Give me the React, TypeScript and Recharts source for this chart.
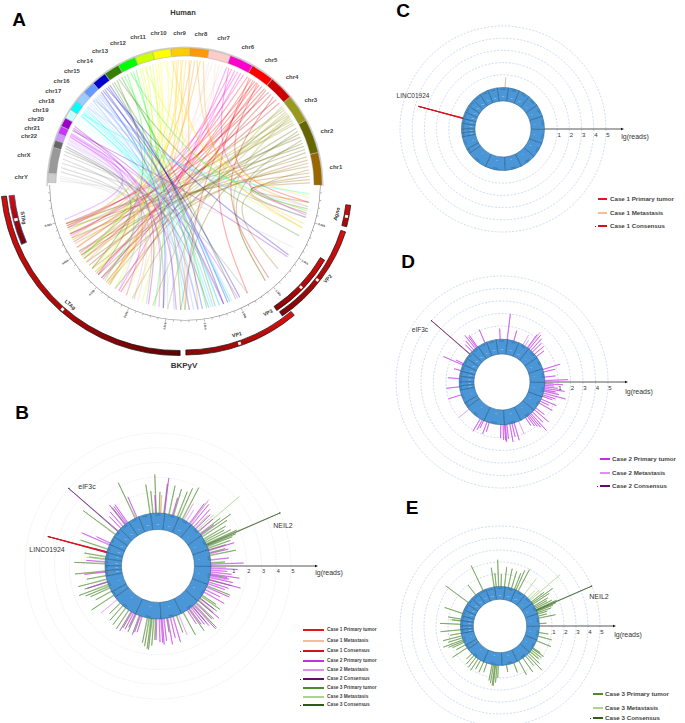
import React from 'react';
import { PieChart, Pie, Cell, RadarChart, Radar, PolarGrid, PolarAngleAxis, PolarRadiusAxis, LineChart, Line, XAxis, YAxis } from 'recharts';

const FONT = '"Liberation Sans", Arial, sans-serif';
const W = 685, H = 723;
const RAD = Math.PI / 180;

/* ---------- Panel A data ---------- */
const chrNames = ['chr1','chr2','chr3','chr4','chr5','chr6','chr7','chr8','chr9','chr10','chr11','chr12','chr13','chr14','chr15','chr16','chr17','chr18','chr19','chr20','chr21','chr22','chrX','chrY'];
const chrSpans = [14,14.5,11.9,10.6,10,10.2,9.3,8.1,8,7.7,7.7,7.7,6.6,6.3,5.4,4.8,4.2,4,3.8,3.2,3,3,11,4];
const chrColors = ['#996600','#666600','#99991e','#cc0000','#ff0000','#ff00cc','#ffcccc','#ff9900','#ffcc00','#ffff00','#ccff00','#00ff00','#358000','#0000cc','#6699ff','#99ccff','#00ffff','#ccffff','#9900cc','#cc33ff','#cc99ff','#666666','#999999','#cccccc'];

const links: number[][][] = [
  [[1,352],[2.5,349],[4,345],[5.5,200],[7,318],[8.5,205],[10,222],[11.5,228],[13,212]],
  [[15,347],[16.5,214],[18,198],[19.5,218],[21,310],[22.5,203],[24,226],[25.5,268],[27,236]],
  [[29,208],[30,216],[31,199],[32,224],[33,310],[34,206],[35,232],[36,245],[37,201],[38,212],[39,262],[33.5,255]],
  [[41,220],[43,203],[45,312],[46.5,228],[48,198],[49.5,239],[50.5,214]],
  [[52,207],[53.5,231],[55,216],[56,199],[57,270],[58,225],[59,300],[60,210],[54.5,352]],
  [[62,204],[63.5,226],[65,200],[66.5,229],[68,213],[69.5,346],[70.5,238]],
  [[72.5,208],[74,260],[76,354],[77.5,222],[79,240]],
  [[81.5,340],[83,218],[84.5,350],[85.5,233],[87,205],[88,276]],
  [[89.5,232],[91,210],[92,270],[93,222],[94,246],[95,200],[96,342]],
  [[98,232],[99.5,355],[101,214],[102.5,242],[103.5,225]],
  [[105,224],[106.5,250],[108,202],[109,340],[110,236],[111,216]],
  [[113,230],[114.5,256],[116,348],[117.5,215],[119,280]],
  [[120.5,294],[122,336],[123,222],[124.5,284],[125.5,268]],
  [[127,288],[128,290],[129,326],[130,278],[131,296],[132,260]],
  [[133,286],[134,291],[135,272],[136,283],[137,345],[137.5,265]],
  [[139,292],[140,280],[141,274],[141.5,350],[142,262]],
  [[143,291],[144,286],[144.7,276],[145.5,356],[146,270],[146.5,282]],
  [[148,278],[149,292],[150,284]],
  [[152,253],[153,288],[153.7,266],[154.3,325]],
  [[155.5,196],[156,258],[156.5,295],[157,242],[157.5,276]],
  [[158.5,200],[159,246],[160,272],[160.6,238]],
  [[162,260],[163,226],[164.3,281]],
  [[166,288],[168,252],[170,300],[172,233],[174,272]],
  [[176,274],[177,248],[178.2,330]],
];

/* Scale of the viral genome, every 100 bp */
const scaleBp = [0,100,200,300,400,500,600,700,800,900,1000,1100,1200,1300,1400,1500,1600,1700,1800,1900,2000,2100,2200,2300,2400,2500,2600,2700,2800,2900,3000,3100,3200,3300,3400,3500,3600,3700,3800,3900,4000,4100,4200,4300,4400,4500,4600,4700,4800,4900,5000,5100,5200,5300,5400];

const geneNames = ['LTAg','STAg','VP1','VP2','VP3','Agno'];
const geneFrom = [186,186,270.3,304,303.4,345.5];
const geneTo = [270.7,203,310,342,329.5,353];
const geneMark = [228.7,194.4,289,322,316,349];
const geneLabels = [
  { t:'LTAg', x:70, y:305, r:40 }, { t:'STAg', x:23, y:218, r:80 }, { t:'VP1', x:237, y:335, r:-15 },
  { t:'VP2', x:328, y:279, r:-48 }, { t:'VP3', x:268, y:313, r:-25 }, { t:'Agno', x:337, y:214, r:-75 },
];
const geneGeom = [
  { cx:178, cy:178, ri:172.5, ro:177.5, grad:'gLT', line:'#111' },
  { cx:178, cy:178, ri:164.5, ro:170, grad:'gST', line:'#2a4e9e' },
  { cx:185, cy:185, ri:165, ro:170, grad:'gV1', line:'#111' },
  { cx:192, cy:182, ri:156.5, ro:161.5, grad:'gV2', line:'#111' },
  { cx:192, cy:182, ri:149, ro:154, grad:'gV3', line:'#111' },
  { cx:185, cy:185, ri:162, ro:167, grad:'gAg', line:'#111' },
];

/* ---------- Junction spikes: [angle in degrees, lg(reads)] ---------- */
const case1Primary = [[164.7,3.7]];
const case1Metastasis = [[86.7,0.8]];
const case1Consensus = [[164.7,3.7]];
const case2Primary = [[1.4,1.8],[6,.83],[13,.9],[16.5,1.39],[36,.7],[40,.9],[44,.95],[47,1.2],[50,1.4],[53,1.25],[73.6,.8],[82.4,2.0],[91.8,.8],[113,1.1],[124.7,1.07],[126,1.0],[128,1.28],[131,.9],[134,.7],[154,.6],[156,1.63],[164,.5],[175,.87],[185.8,1],[197,1],[239,1.1],[242,.83],[244,.6],[249,.96],[252,.7],[268,1.0],[271,1.15],[273,1.2],[274,1.34],[276,1.1],[280,1.4],[283,1.0],[286,1.38],[303,.7],[306,.9],[308,1.05],[310,1.3],[312,1.76],[315,1.1],[319,1.44],[322,.8],[330,1.15],[333,.7],[336,1.26],[340,.8],[342,1.0],[344.5,1.78],[347,1.2],[349,.9],[351,1.58],[353,1.0],[355,.7],[357,1.4]];
const case2Metastasis = [[219,1],[292.5,1.06],[60,.85],[52,1.55],[348,.8],[358,.6],[57,.5]];
const case2Consensus = [[138.7,4.0]];
const case3Primary = [[3,.55],[10.8,1.39],[14,.7],[17,.8],[19,1.2],[21,1.4],[22,1.7],[24,1.85],[26,1.5],[28,1.1],[30,1.3],[33,1.6],[35,2.05],[37,1.3],[62,1.97],[65.5,1.75],[68,1.4],[72.4,1.44],[77.5,1.56],[83,1.6],[88,1.0],[91.4,2.2],[95,1.1],[98,1.58],[115,2.25],[127.5,1],[143,2.3],[161,1.53],[169.4,1.05],[172,.7],[177,1.67],[185,1.64],[190,.9],[194,1.58],[197,1.2],[200,1.7],[202,1.3],[204,1.0],[208,.8],[213,1.4],[224,.6],[228,.9],[232,1.0],[236,1.1],[240,.8],[245,.9],[250,.75],[258,1.3],[260,1.5],[262,1.65],[263,1.7],[265,1.4],[267,1.0],[279,.55],[290,.8],[297.8,1.3],[305,1.37],[310,1.0],[313,1.74],[316,1.2],[319,.9],[322,1.0],[324.4,1.1],[326,.7],[337.5,1.25],[344.5,1.14],[350,.75]];
const case3Metastasis = [[40,3.25],[52,1.66],[42,1.1],[45,.8],[320,.9],[325,.8],[172.5,.9]];
const case3Consensus = [[23.2,5.0]];

/* ---------- Ring of the genome used in panels B to E ---------- */
const ringNames = ['1','2','3','4','5','6','7','8','9','10','11','12','13','14','15','16','17','18','19','20','21','22','X','Y'];
const ringSizes = [249,242,198,190,181,171,159,145,138,134,135,133,114,107,102,90,83,80,59,64,47,51,156,57];
const lgTicks = [1,2,3,4,5];

const seriesStyle: Record<string,{color:string;w:number}> = {
  p1:{color:'#e8141c',w:.8}, m1:{color:'#f6bd96',w:.8}, c1:{color:'#d4111b',w:.8},
  p2:{color:'#c030e8',w:.5}, m2:{color:'#dc90f0',w:.5}, c2:{color:'#5e1068',w:.6},
  p3:{color:'#4f8a2c',w:.5}, m3:{color:'#aed48a',w:.5}, c3:{color:'#2f5a1c',w:.6},
};
const seriesSource: Record<string,number[][]> = {
  p1:case1Primary, m1:case1Metastasis, c1:case1Consensus,
  p2:case2Primary, m2:case2Metastasis, c2:case2Consensus,
  p3:case3Primary, m3:case3Metastasis, c3:case3Consensus,
};
const BASE = -0.6;
const STEPS = 720;
const spikeTable = Array.from({ length: STEPS }, (_, i) => {
  const row: Record<string,number> = { a:i };
  Object.keys(seriesSource).forEach(k => { row[k] = BASE; });
  return row;
});
Object.keys(seriesSource).forEach(k => {
  seriesSource[k].forEach(([a, v]) => { const i = Math.round(a * 2) % STEPS; spikeTable[i][k] = Math.max(spikeTable[i][k], v); });
});

const panels = [
  { id:'B', cx:158, cy:566, v0:56.75, step:15.25, ro:53, ri:36.5, arrow:159, lx:171, ly:6, keys:['p1','m1','p3','m3','p2','m2','c1','c2','c3'], fs:5.5, grid:'#d6def2', dash:'1 1.5' },
  { id:'C', cx:503, cy:129, v0:42, step:12.2, ro:41.5, ri:28, arrow:120, lx:132, ly:7, keys:['m1','p1','c1'], fs:6, grid:'#b9cbe9', dash:'2 1.5' },
  { id:'D', cx:502, cy:382, v0:43.5, step:12.5, ro:42.8, ri:28, arrow:125, lx:137, ly:9, keys:['m2','p2','c2'], fs:6, grid:'#b9cbe9', dash:'2 1.5' },
  { id:'E', cx:500, cy:626, v0:40, step:12, ro:39.5, ri:26.7, arrow:115, lx:128, ly:8, keys:['m3','p3','c3'], fs:6, grid:'#b9cbe9', dash:'2 1.5' },
];

const legendB = [
  { t:'Case 1 Primary tumor', c:'#e8141c', y:630 }, { t:'Case 1 Metastasis', c:'#f6bd96', y:640.5 }, { t:'Case 1 Consensus', c:'#d4111b', y:651, dot:true },
  { t:'Case 2 Primary tumor', c:'#c030e8', y:661 }, { t:'Case 2 Metastasis', c:'#dc90f0', y:670 }, { t:'Case 2 Consensus', c:'#5e1068', y:679, dot:true },
  { t:'Case 3 Primary tumor', c:'#4f8a2c', y:688 }, { t:'Case 3 Metastasis', c:'#aed48a', y:697 }, { t:'Case 3 Consensus', c:'#2f5a1c', y:705, dot:true },
];
const legendC = [
  { t:'Case 1 Primary tumor', c:'#e8141c', y:199 }, { t:'Case 1 Metastasis', c:'#f6bd96', y:213 }, { t:'Case 1 Consensus', c:'#d4111b', y:226, dot:true },
];
const legendD = [
  { t:'Case 2 Primary tumor', c:'#c030e8', y:459 }, { t:'Case 2 Metastasis', c:'#dc90f0', y:473 }, { t:'Case 2 Consensus', c:'#5e1068', y:486, dot:true },
];
const legendE = [
  { t:'Case 3 Primary tumor', c:'#4f8a2c', y:694 }, { t:'Case 3 Metastasis', c:'#aed48a', y:708 }, { t:'Case 3 Consensus', c:'#2f5a1c', y:718, dot:true },
];

const texts = [
  { t:'A', x:19, y:19, s:19, b:true, c:'#000' }, { t:'B', x:22, y:412, s:19, b:true, c:'#000' },
  { t:'C', x:403, y:10, s:19, b:true, c:'#000' }, { t:'D', x:408, y:261, s:19, b:true, c:'#000' }, { t:'E', x:412, y:507, s:19, b:true, c:'#000' },
  { t:'Human', x:183, y:13, s:7.5, b:true, c:'#333' }, { t:'BKPyV', x:184, y:366, s:8, b:true, c:'#333' },
  { t:'LINC01924', x:47, y:549, s:7, c:'#333' }, { t:'eIF3c', x:87, y:486, s:7, c:'#333' }, { t:'NEIL2', x:283, y:525, s:7, c:'#333' },
  { t:'LINC01924', x:413, y:96, s:6.5, c:'#333' }, { t:'eIF3c', x:420, y:330, s:6.5, c:'#333' }, { t:'NEIL2', x:599, y:596, s:7, c:'#333' },
];

/* ---------- helpers ---------- */
const Txt = ({ t, x, y, s, b, c, r }: any) => (
  <div style={{ position:'absolute', left:x, top:y, transform:`translate(-50%,-50%) rotate(${r || 0}deg)`, fontFamily:FONT, fontSize:s, fontWeight:b ? 700 : 400, color:c || '#333', whiteSpace:'nowrap', lineHeight:1 }}>{t}</div>
);

const LegendBlock = ({ items, x0, x1, tx, s }: any) => (
  <>
    {items.map((it: any) => (
      <React.Fragment key={it.t}>
        <div style={{ position:'absolute', left:x0, top:it.y - 1, width:x1 - x0, height:2, background:it.c }} />
        {it.dot && <div style={{ position:'absolute', left:x0 - 3.5, top:it.y - .5, width:1, height:1, background:'#333' }} />}
        <div style={{ position:'absolute', left:tx, top:it.y, transform:'translateY(-50%)', fontFamily:FONT, fontSize:s, fontWeight:700, color:'#444', whiteSpace:'nowrap', lineHeight:1 }}>{it.t}</div>
      </React.Fragment>
    ))}
  </>
);

const chrLabel = (p: any) => {
  const a = p.midAngle * RAD;
  const r = 152 + 12 * Math.max(0, -Math.cos(a));
  return <text key={p.index} x={p.cx + r * Math.cos(a)} y={p.cy - r * Math.sin(a)} textAnchor="middle" dominantBaseline="central" fontFamily={FONT} fontSize={6} fontWeight={700} fill="#444">{chrNames[p.index]}</text>;
};

const ringLabel = (p: any) => {
  const a = p.midAngle * RAD;
  const rIn = p.innerRadius + (p.outerRadius - p.innerRadius) * .3;
  const rOut = p.outerRadius - 1.4;
  const xo = p.cx + rOut * Math.cos(a), yo = p.cy - rOut * Math.sin(a);
  return (
    <g key={p.index}>
      <text x={p.cx + rIn * Math.cos(a)} y={p.cy - rIn * Math.sin(a)} textAnchor="middle" dominantBaseline="central" fontFamily={FONT} fontSize={2.4} fill="#b9d8f2">{ringNames[p.index]}</text>
      <text x={xo} y={yo} transform={`rotate(${90 - p.midAngle} ${xo} ${yo})`} textAnchor="middle" dominantBaseline="central" fontFamily={FONT} fontSize={2} fill="#235a88">{ringSizes[p.index]}M</text>
    </g>
  );
};

const ScaleTick = (p: any) => {
  const dx = p.x - p.cx, dy = p.y - p.cy;
  const len = Math.hypot(dx, dy) || 1;
  const ux = dx / len, uy = dy / len;
  const bp = scaleBp[p.index];
  const major = bp > 0 && bp % 500 === 0;
  const rr = 135.5;
  const lr = 142.5;
  const deg = Math.atan2(uy, ux) / RAD;
  const lx = p.cx + ux * lr, ly = p.cy + uy * lr;
  const rot = ux < 0 ? deg + 180 : deg;
  return (
    <g>
      <line x1={p.cx + ux * rr} y1={p.cy + uy * rr} x2={p.cx + ux * (rr + (major ? 2.6 : 1.6))} y2={p.cy + uy * (rr + (major ? 2.6 : 1.6))} stroke="#555" strokeWidth={.45} />
      {major && bp <= 5000 && <text x={lx} y={ly} transform={`rotate(${rot} ${lx} ${ly})`} textAnchor="middle" dominantBaseline="central" fontFamily={FONT} fontSize={2.8} fontWeight={700} fill="#333">{(bp / 1000).toFixed(1)}kb</text>}
    </g>
  );
};

const makeLgTick = (pn: any) => (p: any) => {
  const v = p.payload.value;
  return (
    <g>
      <text x={p.x + 2} y={p.y + pn.fs * .95} textAnchor="middle" dominantBaseline="central" fontFamily={FONT} fontSize={pn.fs} fill="#333">{v}</text>
      {v === 1 && (
        <g>
          <line x1={pn.cx + pn.ro} y1={pn.cy} x2={pn.cx + pn.arrow - 1} y2={pn.cy} stroke="#111" strokeWidth={.7} />
          <path d={`M${pn.cx + pn.arrow + 1} ${pn.cy} l-3 -1.3 v2.6 z`} fill="#111" />
          <text x={pn.cx + pn.lx} y={pn.cy + pn.ly} textAnchor="middle" dominantBaseline="central" fontFamily={FONT} fontSize={7} fill="#333">lg(reads)</text>
        </g>
      )}
    </g>
  );
};

const tipDot = (p: any) => {
  const v = Array.isArray(p.value) ? p.value[1] : p.value;
  if (!v || v <= 0) return <g key={p.index} />;
  return <circle key={p.index} cx={p.cx} cy={p.cy} r={.6} fill="#333" />;
};

const SpikePanel = ({ pn }: any) => {
  const min = -pn.v0 / pn.step;
  const R = pn.v0 + pn.step * 5;
  return (
    <div style={{ position:'absolute', left:0, top:0 }}>
      <RadarChart width={W} height={H} data={spikeTable} cx={pn.cx} cy={pn.cy} innerRadius={0} outerRadius={R} startAngle={0} endAngle={360} margin={{ top:0, right:0, bottom:0, left:0 }}>
        <PolarGrid gridType="circle" radialLines={false} stroke={pn.grid} strokeWidth={.7} strokeDasharray={pn.dash} />
        <PolarAngleAxis dataKey="a" tick={false} tickLine={false} axisLine={false} />
        <PolarRadiusAxis angle={0} domain={[min, 5]} ticks={lgTicks} tick={makeLgTick(pn)} axisLine={false} tickLine={false} allowDataOverflow />
        {pn.keys.map((k: string) => (
          <Radar key={k} dataKey={k} stroke={seriesStyle[k].color} strokeWidth={seriesStyle[k].w} fill="none" isAnimationActive={false} dot={k[0] === 'c' ? tipDot : false} />
        ))}
      </RadarChart>
    </div>
  );
};

const BEND = 0.3;
const chordRows = links.flatMap((list, ci) => list.map(([from, to], li) => {
  const a = { x:Math.cos(from * RAD), y:Math.sin(from * RAD) };
  const b = { x:Math.cos(to * RAD), y:Math.sin(to * RAD) };
  return {
    id:`${ci}-${li}`, color:chrColors[ci],
    pts:[a, { x:(a.x + b.x) / 2 * BEND, y:(a.y + b.y) / 2 * BEND }, b],
  };
}));

const geneRow = (name: string) => [{ name, value:1 }];

export default function App() {
  return (
    <div style={{ position:'absolute', left:0, top:0, width:W, height:H, background:'#fff', overflow:'hidden' }}>
      {/* chords */}
      <div style={{ position:'absolute', left:185 - 125, top:185 - 125 }}>
        <LineChart width={250} height={250} margin={{ top:0, right:0, bottom:0, left:0 }}>
          <XAxis type="number" dataKey="x" domain={[-1, 1]} hide />
          <YAxis type="number" domain={[-1, 1]} hide />
          {chordRows.map(c => (
            <Line key={c.id} data={c.pts} dataKey="y" type="basis" stroke={c.color} strokeOpacity={.3} strokeWidth={1.2} dot={false} activeDot={false} isAnimationActive={false} />
          ))}
        </LineChart>
      </div>

      {/* scale ticks of the viral genome */}
      <div style={{ position:'absolute', left:0, top:0 }}>
        <RadarChart width={W} height={H} data={scaleBp.map(bp => ({ bp, r:1 }))} cx={185} cy={185} outerRadius={135.5} startAngle={0} endAngle={-180} margin={{ top:0, right:0, bottom:0, left:0 }}>
          <PolarAngleAxis dataKey="bp" tick={ScaleTick} tickLine={false} axisLine={false} />
          <Radar dataKey="r" stroke="none" fill="none" isAnimationActive={false} />
        </RadarChart>
      </div>

      {/* chromosomes, scale arc and genes */}
      <div style={{ position:'absolute', left:0, top:0 }}>
        <PieChart width={W} height={H} margin={{ top:0, right:0, bottom:0, left:0 }}>
          <defs>
            <linearGradient id="gLT" x1="0" y1="0" x2="1" y2="1"><stop offset="0" stopColor="#d40d0d" /><stop offset=".55" stopColor="#a80808" /><stop offset="1" stopColor="#5c0303" /></linearGradient>
            <linearGradient id="gST" x1="0" y1="0" x2="0" y2="1"><stop offset="0" stopColor="#d40d0d" /><stop offset="1" stopColor="#700505" /></linearGradient>
            <linearGradient id="gV1" x1="0" y1="1" x2="1" y2="0"><stop offset="0" stopColor="#8a0505" /><stop offset="1" stopColor="#e20f0f" /></linearGradient>
            <linearGradient id="gV2" x1="0" y1="1" x2="1" y2="0"><stop offset="0" stopColor="#7a0505" /><stop offset="1" stopColor="#dc0f0f" /></linearGradient>
            <linearGradient id="gV3" x1="0" y1="1" x2="1" y2="0"><stop offset="0" stopColor="#8a0505" /><stop offset="1" stopColor="#d00d0d" /></linearGradient>
            <linearGradient id="gAg" x1="0" y1="0" x2="0" y2="1"><stop offset="0" stopColor="#d40d0d" /><stop offset="1" stopColor="#a00808" /></linearGradient>
          </defs>
          <Pie data={[{ name:'rim', value:1 }]} dataKey="value" cx={185} cy={185} startAngle={-0.5} endAngle={180.5} innerRadius={137.2} outerRadius={138.6} fill="#cfcfcf" stroke="none" isAnimationActive={false} />
          <Pie data={chrNames.map((name, i) => ({ name, value:chrSpans[i] }))} dataKey="value" cx={185} cy={185} startAngle={0} endAngle={179} innerRadius={129} outerRadius={137} paddingAngle={.15} stroke="#999" strokeWidth={.4} label={chrLabel} labelLine={false} isAnimationActive={false}>
            {chrNames.map((n, i) => <Cell key={n} fill={chrColors[i]} />)}
          </Pie>
          <Pie data={[{ name:'scale', value:1 }]} dataKey="value" cx={185} cy={185} startAngle={180} endAngle={360} innerRadius={135} outerRadius={135.6} fill="#808080" stroke="none" isAnimationActive={false} />
          {geneNames.map((g, i) => (
            <Pie key={g} data={geneRow(g)} dataKey="value" cx={geneGeom[i].cx} cy={geneGeom[i].cy} startAngle={geneFrom[i]} endAngle={geneTo[i]} innerRadius={geneGeom[i].ri} outerRadius={geneGeom[i].ro} fill={`url(#${geneGeom[i].grad})`} stroke={geneGeom[i].line} strokeWidth={.7} isAnimationActive={false} />
          ))}
          {geneNames.map((g, i) => (
            <Pie key={g + 'm'} data={geneRow(g)} dataKey="value" cx={geneGeom[i].cx} cy={geneGeom[i].cy} startAngle={geneMark[i] - .5} endAngle={geneMark[i] + .5} innerRadius={geneGeom[i].ri + 1} outerRadius={geneGeom[i].ro - 1} fill="#fff" stroke="none" isAnimationActive={false} />
          ))}
        </PieChart>
      </div>

      {/* spikes and grid */}
      {panels.map(pn => <SpikePanel key={pn.id} pn={pn} />)}

      {/* blue genome rings */}
      <div style={{ position:'absolute', left:0, top:0 }}>
        <PieChart width={W} height={H} margin={{ top:0, right:0, bottom:0, left:0 }}>
          {panels.map(pn => (
            <Pie key={pn.id} data={ringNames.map((name, i) => ({ name, value:ringSizes[i] }))} dataKey="value" cx={pn.cx} cy={pn.cy} startAngle={216} endAngle={576} innerRadius={pn.ri} outerRadius={pn.ro} fill="#4a96d6" stroke="#25587f" strokeWidth={.5} label={ringLabel} labelLine={false} isAnimationActive={false} />
          ))}
        </PieChart>
      </div>

      {texts.map((t, i) => <Txt key={i} {...t} />)}
      {geneLabels.map(g => <Txt key={g.t} t={g.t} x={g.x} y={g.y} r={g.r} s={5.2} b c="#333" />)}

      <LegendBlock items={legendB} x0={303} x1={324} tx={327} s={4.8} />
      <LegendBlock items={legendC} x0={598} x1={607} tx={610} s={6.2} />
      <LegendBlock items={legendD} x0={600} x1={610} tx={612} s={6.2} />
      <LegendBlock items={legendE} x0={593} x1={603} tx={605} s={6.2} />
    </div>
  );
}
